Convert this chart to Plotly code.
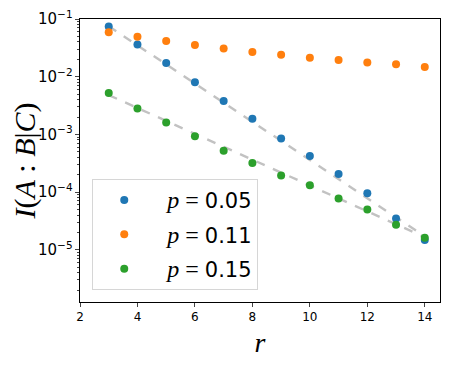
import plotly.graph_objects as go

r = [3, 4, 5, 6, 7, 8, 9, 10, 11, 12, 13, 14]

# I(A:B|C) for each p
i_p005 = [0.074, 0.036, 0.0172, 0.0080, 0.0038, 0.00186, 0.00085, 0.00042,
          0.000205, 0.0000955, 0.0000348, 0.0000148]
i_p011 = [0.059, 0.049, 0.0415, 0.0355, 0.0307, 0.0269, 0.0240, 0.0213,
          0.0194, 0.0177, 0.0164, 0.0147]
i_p015 = [0.0052, 0.00282, 0.0016, 0.00093, 0.00052, 0.00032, 0.000194,
          0.000131, 0.0000776, 0.0000496, 0.0000271, 0.0000162]

# dashed fit lines (end points)
fit_r = [3, 14]
fit_p005 = [0.075, 0.0000170]
fit_p015 = [0.0048, 0.0000165]

labels = ["0.05", "0.11", "0.15"]
colors = ["#1f77b4", "#ff7f0e", "#2ca02c"]

fig = go.Figure()

for fy in [fit_p005, fit_p015]:
    fig.add_trace(go.Scatter(x=fit_r, y=fy, mode="lines", showlegend=False,
                             line=dict(color="#c2c2c2", width=2.4, dash="dash"),
                             hoverinfo="skip"))

for ys, lab, c in zip([i_p005, i_p011, i_p015], labels, colors):
    fig.add_trace(go.Scatter(
        x=r, y=ys, mode="markers", legendgroup=lab,
        name="<span style='font-family:Liberation Serif;font-size:24px'>"
             "  <i>p</i> = </span>" + lab,
        marker=dict(color=c, size=8),
    ))

# page body has an 8px margin, so the figure is 8px smaller each way
fig.update_layout(
    width=441, height=358,
    margin=dict(l=72, r=9, t=11, b=64, autoexpand=False),
    plot_bgcolor="white", paper_bgcolor="white",
    font=dict(family="DejaVu Sans", color="black", size=12),
    legend=dict(x=0.034, y=0.435, xanchor="left", yanchor="top",
                bgcolor="white", bordercolor="#d6d6d6", borderwidth=1,
                font=dict(size=21), tracegroupgap=4, itemwidth=52),
    xaxis=dict(range=[2, 14.53], tickvals=[2, 4, 6, 8, 10, 12, 14],
               showline=True, linecolor="black", linewidth=1, mirror=True,
               ticks="outside", ticklen=4, showgrid=False, zeroline=False,
               automargin=False,
               title=dict(text="<i>r</i>", font=dict(family="Liberation Serif", size=28),
                          standoff=8)),
    yaxis=dict(type="log", range=[-5.906, -1], dtick=1, exponentformat="power",
               showline=True, linecolor="black", linewidth=1, mirror=True,
               ticks="outside", ticklen=4, showgrid=False, zeroline=False,
               automargin=False, ticklabeloverflow="allow",
               minor=dict(ticks="outside", ticklen=2, dtick="D1", showgrid=False),
               title=dict(text="<i>I</i>(<i>A</i> : <i>B</i>|<i>C</i>)",
                          font=dict(family="Liberation Serif", size=30), standoff=4)),
)

fig.write_html("out.html")
